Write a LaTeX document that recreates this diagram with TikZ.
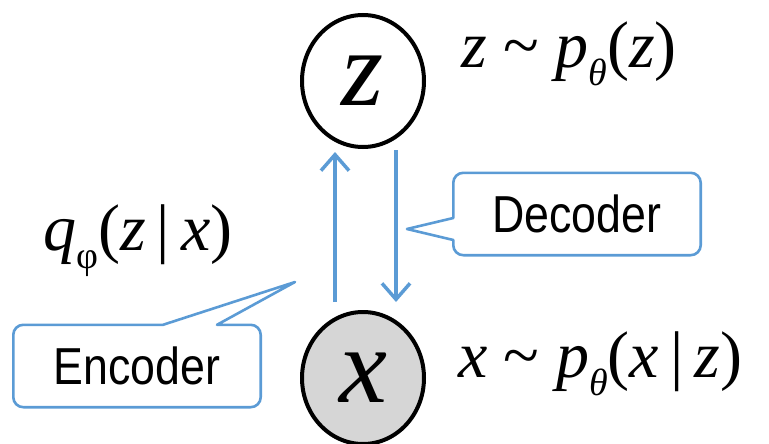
\documentclass[tikz,border=0pt]{standalone}
\usepackage{fontspec}
\usetikzlibrary{shapes.geometric,arrows.meta}
\newfontfamily\tms{Liberation Serif}
\newfontfamily\callfont[FakeStretch=0.86]{Liberation Sans}
\definecolor{wire}{HTML}{5B9BD5}
\definecolor{shade}{HTML}{D6D6D6}
\newcommand\mv[1]{{\itshape #1}}
\newcommand\sub[1]{\raisebox{-0.28em}{\fontsize{38}{38}\selectfont #1}}

\begin{document}
\begin{tikzpicture}[x=1pt,y=-1pt,
  var/.style={ellipse,draw=black,line width=4pt,minimum width=122pt,minimum height=132pt,inner sep=0pt,font=\tms\fontsize{108}{108}\selectfont},
  obs/.style={var,fill=shade},
  lbl/.style={anchor=base west,inner sep=0pt,font=\tms\fontsize{66}{66}\selectfont},
  tag/.style={minimum width=247pt,minimum height=82pt,inner sep=0pt,font=\callfont\fontsize{52}{52}\selectfont},
  bubble/.style={draw=wire,line width=2.6pt,line join=round},
  arr/.style={-{Straight Barb[length=16pt,width=28pt]},color=wire,line width=3.5pt}]
\useasboundingbox (0,0) rectangle (769,444);
\node[var] (zv) at (363,81) {\mv{z}};
\node[obs] (xv) at (363,378) {\mv{x}};
\node[lbl] (zlaw) at (461,67) {\mv{z} \textasciitilde{} \mv{p}\sub{\mv{θ}}(\mv{z})};
\node[lbl] (xlaw) at (458,377) {\mv{x} \textasciitilde{} \mv{p}\sub{\mv{θ}}(\mv{x}\,|\,\mv{z})};
\node[lbl] (qenc) at (43,250) {\mv{q}\sub{φ}(\mv{z}\,|\,\mv{x})};
\node[tag] (dec) at (577,214) {Decoder};
\node[tag] (enc) at (137,366) {Encoder};
\coordinate (dtip) at (407,229);
\coordinate (etip) at (295,282);
\draw[bubble] (dtip) -- ([yshift=-26pt]dec.west) [rounded corners=10pt] -- (dec.south west) -- (dec.south east) -- (dec.north east) -- (dec.north west) [sharp corners] -- ([yshift=-4pt]dec.west) -- cycle;
\draw[bubble] (etip) -- ([xshift=26pt]enc.north) [rounded corners=10pt] -- (enc.north west) -- (enc.south west) -- (enc.south east) -- (enc.north east) [sharp corners] -- ([xshift=80pt]enc.north) -- cycle;
\draw[arr] ([xshift=-28pt,yshift=8pt]xv.north) -- ([xshift=-28pt,yshift=-3pt]zv.south);
\draw[arr] ([xshift=33pt,yshift=-1pt]zv.south) -- ([xshift=33pt,yshift=8pt]xv.north);
\end{tikzpicture}
\end{document}
